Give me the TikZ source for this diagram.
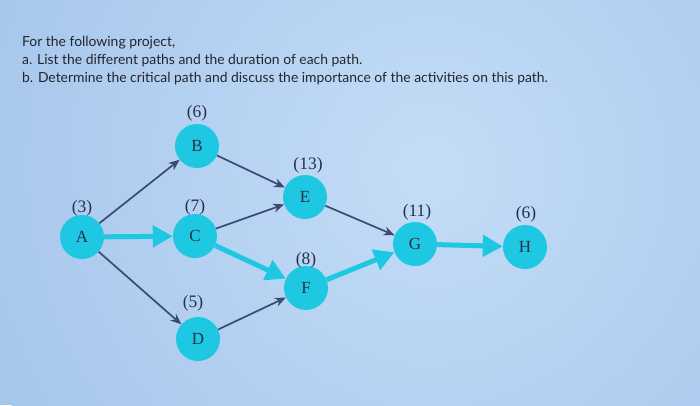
\documentclass[tikz,border=0pt]{standalone}
\usepackage{fontspec}
\setmainfont{Liberation Serif}
\newfontfamily\qfont{Lato}
\usetikzlibrary{arrows.meta}
\definecolor{bgblue}{HTML}{A6C6EC}
\definecolor{bglight}{HTML}{C4DDF7}
\definecolor{nodecyan}{HTML}{1FC8E2}
\definecolor{darkarr}{HTML}{3B4A72}
\definecolor{txtdark}{HTML}{22262E}
\definecolor{lbldark}{HTML}{27304A}
\tikzset{
  act/.style={circle, fill=nodecyan, minimum size=44pt, inner sep=0pt, text=lbldark, font=\fontsize{17}{17}\selectfont},
  dur/.style={text=lbldark, font=\fontsize{17.5}{17.5}\selectfont, inner sep=0pt},
  thin arr/.style={draw=darkarr, line width=1.7pt, -{Stealth[length=11pt,width=9pt]}},
  crit arr/.style={draw=nodecyan, line width=5pt, -{Triangle[length=20pt,width=21pt]}},
  qtext/.style={anchor=base west, inner sep=0pt, text=txtdark, font=\qfont\fontsize{13.9}{13.9}\selectfont}
}
\begin{document}
\begin{tikzpicture}[x=1pt,y=-1pt]
\useasboundingbox (0,0) rectangle (700,405);
\begin{scope}
\clip (0,0) rectangle (700,405);
\fill[bgblue] (0,0) rectangle (700,405);
\shade[inner color=bglight, outer color=bgblue] (430,170) circle (480);
\end{scope}

\node[qtext] (q1) at (22,46) {For the following project,};
\node[qtext] (q2) at (22,64) {a. List the different paths and the duration of each path.};
\node[qtext] (q3) at (22,82) {b. Determine the critical path and discuss the importance of the activities on this path.};

\node[act] (A) at (82,237) {A};
\node[act] (B) at (197,146) {B};
\node[act] (C) at (195,236) {C};
\node[act] (D) at (198,339) {D};
\node[act] (E) at (305,197) {E};
\node[act] (F) at (306,288) {F};
\node[act] (G) at (415,244) {G};
\node[act] (H) at (525,247) {H};

\node[dur] (lA) at (82,208) {(3)};
\node[dur] (lB) at (197,113) {(6)};
\node[dur] (lC) at (195,207) {(7)};
\node[dur] (lD) at (193,303) {(5)};
\node[dur] (lE) at (308,165) {(13)};
\node[dur] (lF) at (306,260) {(8)};
\node[dur] (lG) at (417,212) {(11)};
\node[dur] (lH) at (526,214) {(6)};

\draw[thin arr] (A) -- (B);
\draw[thin arr] (A) -- (D);
\draw[thin arr] (B) -- (E);
\draw[thin arr] (C) -- (E);
\draw[thin arr] (D) -- (F);
\draw[thin arr] (E) -- (G);
\draw[crit arr] (A) -- (C);
\draw[crit arr] (C) -- (F);
\draw[crit arr] (F) -- (G);
\draw[crit arr] (G) -- (H);
\end{tikzpicture}
\end{document}
